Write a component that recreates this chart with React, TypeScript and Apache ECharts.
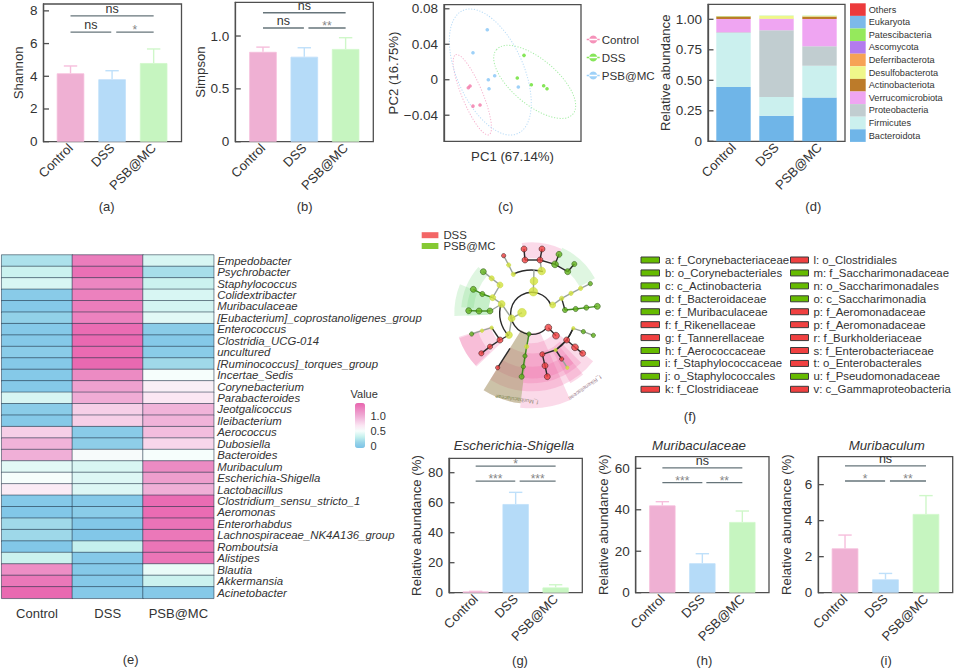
import React, { useEffect, useRef } from "react";
import * as echarts from "echarts";

const FONT = "Liberation Sans";
const TEXT = "#333";
const AXIS = "#4f4f4f";

const groups = ["Control", "DSS", "PSB@MC"];
const groupColors = ["#EFB0D3", "#B5DBF8", "#C6F5C0"];
const capLight = ["#F6BEDC", "#BFE0FA", "#CFF7C9"];

// (a)
const shannonMeans = [4.18, 3.82, 4.81];
const shannonUpper = [4.63, 4.34, 5.67];
const shannonTicks = [0, 2, 4, 6, 8];
const shannonLabels = ["0", "2", "4", "6", "8"];
const shannonBrackets: [number, number, number, string][] = [[0, 2, 7.69, "ns"], [0, 0.98, 6.7, "ns"], [1.1, 2, 6.7, "*"]];
// (b)
const simpsonMeans = [0.85, 0.804, 0.877];
const simpsonUpper = [0.895, 0.889, 0.984];
const simpsonTicks = [0, 0.5, 1];
const simpsonLabels = ["0", "0.5", "1.0"];
const simpsonBrackets: [number, number, number, string][] = [[0, 2, 1.22, "ns"], [0, 0.99, 1.076, "ns"], [1.1, 2, 1.076, "**"]];
// (c)
const pcaControl = [[-0.0645, -0.009], [-0.062, -0.0071], [-0.0577, -0.0297], [-0.0474, -0.0285]];
const pcaDss = [[0.007, 0.0019], [0.0168, 0.0275], [0.0275, -0.0056], [0.0455, -0.0068], [0.0504, -0.0101]];
const pcaPsb = [[-0.0368, 0.0564], [-0.0577, 0.0304], [-0.0353, 0], [-0.0343, -0.0101], [-0.026, 0.0045], [0.0085, -0.0082]];
const pcaColors = ["#F277A8", "#68E030", "#86C5F6"];
const pcaRing = ["#F6B4CF", "#A6EDA6", "#B9DCF7"];
// centre x, centre y, semi-axes (px), tilt (deg)
const pcaEllipses = [[-0.0587, -0.0169, 43.3, 10.3, 67.4], [0.0324, -0.0024, 50, 22.7, 40], [-0.0324, 0.0087, 67.3, 33.3, 66]];
const pcaTicks = [-0.04, 0, 0.04, 0.08];
const pcaLabels = ["\u22120.04", "0", "0.04", "0.08"];
// (d)
const phyla = ["Bacteroidota", "Firmicutes", "Proteobacteria", "Verrucomicrobiota", "Actinobacteriota", "Desulfobacterota", "Deferribacterota", "Ascomycota", "Patescibacteria", "Eukaryota", "Others"];
const phylaColors = ["#6FB5E8", "#CBF0EE", "#C1CDD0", "#EFA5F2", "#BC7B2A", "#EFF78A", "#F6A256", "#B37BEE", "#95E95C", "#7CB9EA", "#EC3A3C"];
const bacteroidota = [0.445, 0.21, 0.36];
const firmicutes = [0.443, 0.153, 0.26];
const proteobacteria = [0.005, 0.547, 0.159];
const verrucomicrobiota = [0.11, 0.093, 0.224];
const actinobacteriota = [0.02, 0.001, 0.02];
const desulfobacterota = [0.002, 0.023, 0.004];
const deferribacterota = [0.001, 0.001, 0.001];
const ascomycota = [0, 0, 0];
const patescibacteria = [0.001, 0.001, 0.001];
const eukaryota = [0, 0, 0];
const others = [0, 0, 0];
const phylaValues = [bacteroidota, firmicutes, proteobacteria, verrucomicrobiota, actinobacteriota, desulfobacterota, deferribacterota, ascomycota, patescibacteria, eukaryota, others];
const abundanceTicks = [0, 0.25, 0.5, 0.75, 1];
const abundanceLabels = ["0", "0.25", "0.50", "0.75", "1.00"];
// (e)
const genera = ["Empedobacter", "Psychrobacter", "Staphylococcus", "Colidextribacter", "Muribaculaceae", "[Eubacterium]_coprostanoligenes_group", "Enterococcus", "Clostridia_UCG-014", "uncultured", "[Ruminococcus]_torques_group", "Incertae_Sedis", "Corynebacterium", "Parabacteroides", "Jeotgalicoccus", "Ileibacterium", "Aerococcus", "Dubosiella", "Bacteroides", "Muribaculum", "Escherichia-Shigella", "Lactobacillus", "Clostridium_sensu_stricto_1", "Aeromonas", "Enterorhabdus", "Lachnospiraceae_NK4A136_group", "Romboutsia", "Alistipes", "Blautia", "Akkermansia", "Acinetobacter"];
const heatControl = [0.2, 0.33, 0.38, 0.02, 0, 0.08, 0, 0, 0.03, 0, 0, 0, 0.38, 0.03, 0, 0.82, 0.98, 1, 0.42, 0.5, 0.65, 0, -0.02, 0.15, 0.14, -0.02, 0.33, 1.2, 1.33, 1.42];
const heatDss = [1.3, 1.38, 1.25, 1.28, 1.3, 1.27, 1.4, 1.42, 1.41, 1.42, 1.22, 1.08, 1.02, 0.82, 0.82, 0.02, 0.05, 0.52, 0.38, 0.4, 0.4, 0, 0.03, -0.02, -0.02, 0.3, 0, 0, 0, 0];
const heatPsb = [0.38, 0.18, 0.33, 0.38, 0.36, 0.42, 0.03, 0, 0.03, 0.15, 0.5, 0.62, 0.68, 0.98, 0.98, 0.92, 0.78, 0.5, 1.22, 1.1, 1, 1.4, 1.4, 1.36, 1.33, 1.35, 1.35, 0.45, 0.33, 0];
const heatScale = ["#7AC2E8", "#99D5E8", "#C6F1EE", "#F6FEFC", "#FBE6F3", "#F4C4E2", "#EEA3D0", "#EC84C0", "#E964AE"];
// (f) all read in a 660 x 630 frame around the cladogram
const cladoCenter = [365, 265];
const cladoPink = "rgba(240,100,165,0.24)";
const cladoGreen = "rgba(110,215,120,0.22)";
const cladoOlive = "rgba(115,150,45,0.34)";
const cladoSectors = [
  [-8, 25, 165, 213], [25, 61, 165, 217], [275, 311, 175, 212], [268, 292, 130, 232], [268, 292, 130, 195],
  [226, 252, 130, 230], [227, 251, 170, 230], [187, 212, 60, 272], [187, 212, 120, 235], [187, 212, 165, 200], [187, 212, 60, 272],
  [156, 187, 60, 285], [128, 187, 90, 234], [135, 187, 120, 210], [140, 187, 160, 195], [140, 151, 130, 240],
];
const cladoSectorFills = [cladoPink, cladoGreen, cladoGreen, cladoGreen, cladoGreen, cladoPink, cladoPink, cladoPink, cladoPink, cladoPink, cladoOlive, cladoPink, cladoPink, cladoPink, cladoPink, cladoPink];
const cladoArcs = [[138, 427, 63], [-25, 15, 130], [226, 287, 96], [110, 147, 132]];
const cladoEdges = [
  [370, 200, 372, 133, 0], [310, 148, 296, 120, 0], [296, 120, 281, 92, 0], [336, 263, 305, 280, 0], [305, 280, 275, 237, 0], [305, 280, 297, 330, 0],
  [248, 218, 275, 237, 0], [217, 207, 248, 218, 2], [190, 193, 217, 207, 2], [270, 180, 248, 218, 0], [245, 160, 270, 180, 0], [220, 140, 245, 160, 0],
  [240, 258, 275, 237, 0], [207, 258, 240, 258, 2], [176, 257, 207, 258, 2], [428, 240, 455, 220, 0], [455, 220, 483, 205, 0], [483, 205, 512, 190, 0], [512, 190, 541, 176, 0],
  [455, 220, 465, 255, 1], [465, 255, 497, 252, 2], [497, 252, 529, 248, 2], [529, 248, 562, 244, 2], [345, 105, 390, 105, 1], [345, 105, 342, 72, 1], [390, 105, 396, 72, 1],
  [395, 138, 390, 105, 0], [390, 105, 435, 118, 1], [435, 118, 447, 88, 1], [435, 118, 473, 140, 1], [473, 140, 493, 117, 1], [297, 330, 270, 345, 1], [270, 345, 240, 365, 1],
  [240, 365, 214, 385, 1], [270, 345, 245, 308, 1], [245, 308, 216, 317, 0], [216, 317, 185, 327, 0], [357, 327, 350, 365, 2], [350, 365, 345, 393, 2], [345, 393, 340, 425, 2],
  [340, 425, 335, 455, 2], [300, 370, 263, 428, 1], [415, 308, 438, 332, 1], [490, 310, 470, 345, 1], [470, 345, 495, 367, 1], [495, 367, 518, 385, 1], [470, 345, 437, 375, 1],
  [437, 375, 397, 388, 1], [397, 388, 405, 422, 1], [405, 422, 412, 455, 1], [437, 375, 455, 402, 1], [455, 402, 472, 428, 0], [490, 310, 520, 320, 0], [520, 320, 550, 331, 0],
];
const cladoEdgeColors = ["#9aa39a", "#2a2a2a", "#3f8a1e"];
const cladoYellowNodes = [[370, 200, 10], [372, 168, 9], [395, 138, 9], [310, 148, 5], [296, 120, 5], [336, 263, 10], [305, 280, 8], [275, 237, 8], [248, 218, 7], [270, 180, 7], [245, 160, 6], [297, 330, 8], [245, 308, 4], [216, 317, 4], [428, 240, 7], [455, 220, 5], [483, 205, 5], [512, 190, 5], [437, 375, 4], [472, 428, 4], [490, 310, 4], [350, 365, 5]];
const cladoRedNodes = [[281, 92, 5], [345, 105, 7], [342, 72, 7], [390, 105, 7], [396, 72, 7], [270, 345, 7], [240, 365, 6], [214, 385, 6], [263, 428, 5], [415, 308, 8], [438, 332, 8], [470, 345, 7], [495, 367, 8], [518, 385, 7], [397, 388, 6], [405, 422, 7], [412, 455, 7], [455, 402, 5]];
const cladoGreenNodes = [[435, 118, 8], [447, 88, 7], [473, 140, 7], [493, 117, 6], [541, 176, 5], [465, 255, 6], [497, 252, 6], [529, 248, 6], [562, 244, 7], [220, 140, 7], [190, 193, 7], [217, 207, 6], [240, 258, 7], [207, 258, 7], [176, 257, 7], [185, 327, 5], [357, 327, 5], [345, 393, 5], [340, 425, 5], [335, 455, 6], [520, 320, 5], [550, 331, 5]];
const cladoLeftLabels = ["a: f_Corynebacteriaceae", "b: o_Corynebacteriales", "c: c_Actinobacteria", "d: f_Bacteroidaceae", "e: f_Muribaculaceae", "f: f_Rikenellaceae", "g: f_Tannerellaceae", "h: f_Aerococcaceae", "i: f_Staphylococcaceae", "j: o_Staphylococcales", "k: f_Clostridiaceae"];
const cladoLeftKinds = ["g", "g", "g", "g", "g", "r", "r", "g", "g", "g", "r"];
const cladoRightLabels = ["l: o_Clostridiales", "m: f_Saccharimonadaceae", "n: o_Saccharimonadales", "o: c_Saccharimonadia", "p: f_Aeromonadaceae", "p: f_Aeromonadaceae", "r: f_Burkholderiaceae", "s: f_Enterobacteriaceae", "t: o_Enterobacterales", "u: f_Pseudomonadaceae", "v: c_Gammaproteobacteria"];
const cladoRightKinds = ["r", "g", "g", "g", "r", "r", "r", "r", "r", "g", "r"];
const RED = "#F04040";
const GREEN = "#66BB00";
// (g)
const escherichiaMeans = [0.8, 59.1, 3.5];
const escherichiaUpper = [0.9, 66.9, 5.3];
const escherichiaTicks = [0, 20, 40, 60, 80];
const escherichiaLabels = ["0", "20", "40", "60", "80"];
const escherichiaBrackets: [number, number, number, string][] = [[0, 2, 84.4, "*"], [0, 0.99, 74.4, "***"], [1.1, 2, 74.4, "***"]];
// (h)
const muribaculaceaeMeans = [42.1, 14.2, 34.1];
const muribaculaceaeUpper = [43.9, 18.8, 39.4];
const muribaculaceaeTicks = [0, 20, 40, 60];
const muribaculaceaeLabels = ["0", "20", "40", "60"];
const muribaculaceaeBrackets: [number, number, number, string][] = [[0, 2, 60.2, "ns"], [0, 1, 53.1, "***"], [1.1, 2, 53.1, "**"]];
// (i)
const muribaculumMeans = [2.46, 0.74, 4.37];
const muribaculumUpper = [3.2, 1.07, 5.39];
const muribaculumTicks = [0, 2, 4, 6];
const muribaculumLabels = ["0", "2", "4", "6"];
const muribaculumBrackets: [number, number, number, string][] = [[0, 2, 7.04, "ns"], [0, 0.99, 6.2, "*"], [1.11, 2, 6.2, "**"]];

const captions = [
  ["(a)", 106.7, 206.5], ["(b)", 304.7, 206.5], ["(c)", 505.7, 206.5], ["(d)", 813.3, 206.5], ["(e)", 130.7, 659],
  ["(f)", 690, 416.7], ["(g)", 520, 660], ["(h)", 704.3, 660], ["(i)", 886, 660],
];

type Box = { left: number; top: number; width: number; height: number };

function App() {
  const ref = useRef<HTMLDivElement>(null);
  useEffect(() => {
    document.body.style.margin = "0";
    const chart = echarts.init(ref.current!, null, { renderer: "svg" });

    const grid: any[] = [];
    const xAxis: any[] = [];
    const yAxis: any[] = [];
    const series: any[] = [];
    const graphic: any[] = [];

    const addAxes = (box: Box, xMin: number, xMax: number, yMin: number, yMax: number, ticks: number[], labels: string[], yName: string, nameGap: number, showCats = true) => {
      const i = grid.length;
      grid.push({ ...box, show: true, borderColor: AXIS, borderWidth: 1.3, backgroundColor: "transparent" });
      xAxis.push({
        type: "value", gridIndex: i, min: xMin, max: xMax, splitLine: { show: false }, axisLine: { show: false, onZero: false }, axisTick: { show: false },
        axisLabel: showCats
          ? { customValues: [0, 1, 2], formatter: (v: number) => groups[Math.round(v)], rotate: 45, margin: 4, fontSize: 13, color: TEXT, fontFamily: FONT }
          : { show: false },
      });
      yAxis.push({
        type: "value", gridIndex: i, min: yMin, max: yMax, splitLine: { show: false },
        axisLine: { show: true, onZero: false, lineStyle: { color: AXIS, width: 1.3 } },
        axisTick: { show: false },
        axisLabel: { customValues: ticks, formatter: (v: number) => labels[ticks.findIndex((t) => Math.abs(t - v) < 1e-6)], margin: 6, fontSize: 13.5, color: TEXT, fontFamily: FONT },
        name: yName, nameLocation: "middle", nameGap, nameRotate: 90,
        nameTextStyle: { fontSize: 13.2, color: TEXT, fontFamily: FONT },
      });
      // inward tick marks, placed by the axis scale
      series.push({
        type: "custom", name: "ticks", coordinateSystem: "cartesian2d", xAxisIndex: i, yAxisIndex: i, silent: true, z: 5,
        data: ticks.map((t) => [xMin, t]), encode: { x: 0, y: 1 },
        renderItem: (_: any, api: any) => {
          const a = api.coord([api.value(0), api.value(1)]);
          return { type: "line", shape: { x1: a[0], y1: a[1], x2: a[0] + 5.5, y2: a[1] }, style: { stroke: AXIS, lineWidth: 1.3 } };
        },
      });
      return i;
    };

    const addBracketsAndErrors = (i: number, means: number[], upper: number[], brackets: [number, number, number, string][]) => {
      series.push({
        type: "custom", name: "error", coordinateSystem: "cartesian2d", xAxisIndex: i, yAxisIndex: i, silent: true,
        data: means.map((m, k) => [k, m, upper[k]]), encode: { x: 0, y: [1, 2] },
        renderItem: (p: any, api: any) => {
          const x = api.value(0);
          const a = api.coord([x, api.value(1)]);
          const b = api.coord([x, api.value(2)]);
          const style = { stroke: capLight[p.dataIndex], lineWidth: 1.4, fill: "none" };
          return {
            type: "group",
            children: [
              { type: "line", shape: { x1: a[0], y1: a[1], x2: b[0], y2: b[1] }, style },
              { type: "line", shape: { x1: b[0] - 6.7, y1: b[1], x2: b[0] + 6.7, y2: b[1] }, style },
            ],
          };
        },
      });
      series.push({
        type: "custom", name: "significance", coordinateSystem: "cartesian2d", xAxisIndex: i, yAxisIndex: i, silent: true,
        data: brackets.map((b) => [b[0], b[2], b[1]]), encode: { x: 0, y: 1 },
        renderItem: (p: any, api: any) => {
          const a = api.coord([api.value(0), api.value(1)]);
          const b = api.coord([api.value(2), api.value(1)]);
          const label = brackets[p.dataIndex][3];
          const isNs = label === "ns";
          return {
            type: "group",
            children: [
              { type: "line", shape: { x1: a[0], y1: a[1], x2: b[0], y2: b[1] }, style: { stroke: "#66747A", lineWidth: 1.3 } },
              {
                type: "text",
                style: {
                  text: label, x: (a[0] + b[0]) / 2, y: isNs ? a[1] - 0.5 : a[1] - 2, align: "center", verticalAlign: isNs ? "bottom" : "middle",
                  fontSize: isNs ? 12.5 : 12, fontFamily: FONT, fill: isNs ? TEXT : "#858585",
                },
              },
            ],
          };
        },
      });
    };

    const addBarPanel = (box: Box, xMin: number, xMax: number, yMax: number, ticks: number[], labels: string[], yName: string, nameGap: number, means: number[], upper: number[], brackets: [number, number, number, string][], barWidth: number) => {
      const i = addAxes(box, xMin, xMax, 0, yMax, ticks, labels, yName, nameGap);
      series.push({
        type: "bar", name: yName + " mean", xAxisIndex: i, yAxisIndex: i, barWidth, silent: true,
        data: means.map((m, k) => ({ value: [k, m], itemStyle: { color: groupColors[k], borderColor: capLight[k], borderWidth: 0.8 } })),
      });
      addBracketsAndErrors(i, means, upper, brackets);
    };

    // (a)
    addBarPanel({ left: 43.5, top: 4, width: 138, height: 137.7 }, -0.65, 2.67, 8.42, shannonTicks, shannonLabels, "Shannon", 19, shannonMeans, shannonUpper, shannonBrackets, 27.5);
    // (b)
    addBarPanel({ left: 235.3, top: 2.3, width: 138, height: 139.4 }, -0.67, 2.67, 1.319, simpsonTicks, simpsonLabels, "Simpson", 24, simpsonMeans, simpsonUpper, simpsonBrackets, 27.5);

    // (c)
    const c = addAxes({ left: 444, top: 4.7, width: 137, height: 136.6 }, -0.1, 0.1, -0.0694, 0.0846, pcaTicks, pcaLabels, "PC2 (16.75%)", 40, false);
    xAxis[c].name = "PC1 (67.14%)";
    xAxis[c].nameLocation = "middle";
    xAxis[c].nameGap = 9;
    xAxis[c].nameTextStyle = { fontSize: 13.2, color: TEXT, fontFamily: FONT, verticalAlign: "top" };
    series.push({
      type: "custom", name: "pca ellipses", coordinateSystem: "cartesian2d", xAxisIndex: c, yAxisIndex: c, silent: true,
      data: pcaEllipses, encode: { x: 0, y: 1 },
      renderItem: (p: any, api: any) => {
        const o = api.coord([api.value(0), api.value(1)]);
        return {
          type: "ellipse", x: o[0], y: o[1], rotation: (-api.value(4) * Math.PI) / 180,
          shape: { cx: 0, cy: 0, rx: api.value(2), ry: api.value(3) },
          style: { fill: "none", stroke: pcaRing[p.dataIndex], lineWidth: 1, lineDash: [1.2, 1.6] },
        };
      },
    });
    [pcaControl, pcaDss, pcaPsb].forEach((d, k) => {
      series.push({ type: "scatter", name: groups[k], xAxisIndex: c, yAxisIndex: c, data: d, symbolSize: 3.6, itemStyle: { color: pcaColors[k] }, silent: true });
    });

    // (d): an outer frame with the value axis, and an inner band holding the stacked categories
    const dBox = { left: 708, top: 4.3, width: 137, height: 137 };
    addAxes(dBox, 0, 1, 0, 1.123, abundanceTicks, abundanceLabels, "Relative abundance", 32, false);
    const dInner = grid.length;
    grid.push({ left: 712, top: dBox.top, width: 129, height: dBox.height });
    xAxis.push({ type: "category", gridIndex: dInner, data: groups, axisLine: { show: false, onZero: false }, axisTick: { show: false }, splitLine: { show: false }, axisLabel: { interval: 0, rotate: 45, margin: 4, fontSize: 13, color: TEXT, fontFamily: FONT } });
    yAxis.push({ type: "value", gridIndex: dInner, min: 0, max: 1.123, show: false });
    phyla.forEach((name, k) => {
      series.push({
        type: "bar", name, stack: "phyla", xAxisIndex: dInner, yAxisIndex: dInner, barWidth: 34.4, silent: true,
        itemStyle: { color: phylaColors[k] },
        data: phylaValues[k],
      });
    });

    // (e)
    const e = grid.length;
    grid.push({ left: 1.7, top: 255, width: 212, height: 343.3 });
    xAxis.push({ type: "category", gridIndex: e, data: groups, position: "bottom", axisLine: { show: false }, axisTick: { show: false }, splitLine: { show: false }, axisLabel: { interval: 0, margin: 9, fontSize: 13, color: TEXT, fontFamily: FONT } });
    yAxis.push({ type: "category", gridIndex: e, data: genera, inverse: true, position: "right", axisLine: { show: false }, axisTick: { show: false }, splitLine: { show: false }, axisLabel: { interval: 0, margin: 3.5, fontSize: 11.4, fontStyle: "italic", color: TEXT, fontFamily: FONT } });
    const heatIndex = series.length;
    const heatRows = [heatControl, heatDss, heatPsb];
    series.push({
      type: "heatmap", name: "Value", xAxisIndex: e, yAxisIndex: e, silent: true,
      data: heatRows.flatMap((col, x) => col.map((v, y) => [x, y, v])),
      itemStyle: { borderColor: "rgba(30,50,70,0.62)", borderWidth: 0.9 },
    });
    graphic.push({ type: "text", style: { text: "Value", x: 350.5, y: 393.5, verticalAlign: "middle", fontSize: 11, fontFamily: FONT, fill: TEXT } });
    [["1.0", 416], ["0.5", 430.5], ["0", 446]].forEach(([t, y]) => {
      graphic.push({ type: "text", style: { text: t, x: 370.5, y, verticalAlign: "middle", fontSize: 11, fontFamily: FONT, fill: TEXT } });
    });

    // (f)
    const f = grid.length;
    grid.push({ left: 410, top: 225, width: 220, height: 210 });
    xAxis.push({ type: "value", gridIndex: f, min: 0, max: 660, show: false });
    yAxis.push({ type: "value", gridIndex: f, min: 0, max: 630, inverse: true, show: false });
    series.push({
      type: "custom", name: "clades", coordinateSystem: "cartesian2d", xAxisIndex: f, yAxisIndex: f, silent: true,
      data: cladoSectors, encode: { x: 2, y: 3 },
      renderItem: (p: any, api: any) => {
        const o = api.coord(cladoCenter);
        const s = api.size([1, 1]);
        return {
          type: "sector",
          shape: { cx: o[0], cy: o[1], r0: api.value(2) * s[0], r: api.value(3) * s[0], startAngle: ((api.value(0) - 90) * Math.PI) / 180, endAngle: ((api.value(1) - 90) * Math.PI) / 180, clockwise: true },
          style: { fill: cladoSectorFills[p.dataIndex] },
        };
      },
    });
    series.push({
      type: "custom", name: "clade arcs", coordinateSystem: "cartesian2d", xAxisIndex: f, yAxisIndex: f, silent: true,
      data: cladoArcs, encode: { x: 0, y: 2 },
      renderItem: (_: any, api: any) => {
        const o = api.coord(cladoCenter);
        const s = api.size([1, 1]);
        return {
          type: "arc",
          shape: { cx: o[0], cy: o[1], r: api.value(2) * s[0], startAngle: ((api.value(0) - 90) * Math.PI) / 180, endAngle: ((api.value(1) - 90) * Math.PI) / 180, clockwise: true },
          style: { fill: "none", stroke: "#2a2a2a", lineWidth: 1.4 },
        };
      },
    });
    series.push({
      type: "custom", name: "clade edges", coordinateSystem: "cartesian2d", xAxisIndex: f, yAxisIndex: f, silent: true,
      data: cladoEdges, encode: { x: 0, y: 1 },
      renderItem: (_: any, api: any) => {
        const a = api.coord([api.value(0), api.value(1)]);
        const b = api.coord([api.value(2), api.value(3)]);
        return { type: "line", shape: { x1: a[0], y1: a[1], x2: b[0], y2: b[1] }, style: { stroke: cladoEdgeColors[api.value(4)], lineWidth: 1.4 } };
      },
    });
    const cladoNodeSeries: [string, number[][], string, string][] = [
      ["taxa none", cladoYellowNodes, "#D2E23C", "#C8D840"],
      ["taxa DSS", cladoRedNodes, RED, "#3a2020"],
      ["taxa PSB@MC", cladoGreenNodes, "#62B21A", "#2e5a18"],
    ];
    cladoNodeSeries.forEach(([name, data, color, border]) => {
      series.push({
        type: "scatter", name, xAxisIndex: f, yAxisIndex: f, silent: true, data,
        symbolSize: (v: number[]) => v[2] * 0.85,
        itemStyle: { color, borderColor: border, borderWidth: 0.7 },
      });
    });
    graphic.push({ type: "text", rotation: (172 * Math.PI) / 180, x: 516.7, y: 399.5, style: { text: "f_Muribaculaceae", align: "center", verticalAlign: "middle", fontSize: 5.5, fontFamily: FONT, fill: "#6f8f5a" } });
    graphic.push({ type: "text", rotation: (215.6 * Math.PI) / 180, x: 585, y: 388, style: { text: "f_Rikenellaceae", align: "center", verticalAlign: "middle", fontSize: 5.5, fontFamily: FONT, fill: "#a07f8f" } });
    const addCladoList = (labels: string[], kinds: string[], swatchX: number, swatchW: number, textX: number) => {
      labels.forEach((t, k) => {
        const y = 260 + k * 12.93;
        graphic.push({ type: "rect", shape: { x: swatchX, y: y - 3, width: swatchW, height: 6 }, style: { fill: kinds[k] === "g" ? GREEN : RED, stroke: "#3a3a3a", lineWidth: 1 } });
        graphic.push({ type: "text", style: { text: t, x: textX, y, verticalAlign: "middle", fontSize: 11.4, fontFamily: FONT, fill: TEXT } });
      });
    };
    addCladoList(cladoLeftLabels, cladoLeftKinds, 641, 18.5, 665);
    addCladoList(cladoRightLabels, cladoRightKinds, 790.5, 18, 813.5);

    // (g), (h), (i)
    addBarPanel({ left: 449, top: 458.3, width: 133.3, height: 134.4 }, -0.667, 2.667, 89.6, escherichiaTicks, escherichiaLabels, "Relative abundance (%)", 26, escherichiaMeans, escherichiaUpper, escherichiaBrackets, 26.3);
    addBarPanel({ left: 635.7, top: 456.7, width: 133.3, height: 136 }, -0.667, 2.667, 65.6, muribaculaceaeTicks, muribaculaceaeLabels, "Relative abundance (%)", 25.7, muribaculaceaeMeans, muribaculaceaeUpper, muribaculaceaeBrackets, 26.3);
    addBarPanel({ left: 818.3, top: 456.7, width: 134.4, height: 136 }, -0.66, 2.66, 7.55, muribaculumTicks, muribaculumLabels, "Relative abundance (%)", 25, muribaculumMeans, muribaculumUpper, muribaculumBrackets, 26.6);

    captions.forEach(([t, x, y]) => {
      graphic.push({ type: "text", style: { text: t, x, y, align: "center", verticalAlign: "middle", fontSize: 13, fontFamily: FONT, fill: TEXT } });
    });

    const titleStyle = { fontSize: 13.3, fontStyle: "italic", fontWeight: "normal", color: TEXT, fontFamily: FONT };
    const lineIcon = "path://M0 4.3H13V5.7H0Z M6.5 1a4 4 0 1 0 0.01 0Z";

    chart.setOption({
      animation: false,
      backgroundColor: "#fff",
      textStyle: { fontFamily: FONT },
      title: [
        { text: "Escherichia-Shigella", left: 514, top: 439, textAlign: "center", padding: 0, textStyle: titleStyle },
        { text: "Muribaculaceae", left: 699, top: 439, textAlign: "center", padding: 0, textStyle: titleStyle },
        { text: "Muribaculum", left: 886.7, top: 439, textAlign: "center", padding: 0, textStyle: titleStyle },
      ],
      grid, xAxis, yAxis, series,
      graphic: { elements: graphic },
      visualMap: {
        type: "continuous", seriesIndex: heatIndex, dimension: 2, min: -0.07, max: 1.45, left: 355, top: 403, itemWidth: 10, itemHeight: 45,
        calculable: false, realtime: false, text: ["", ""], showLabel: false, hoverLink: false, padding: 0, inRange: { color: heatScale },
      },
      legend: [
        {
          left: 586.7, top: 33, orient: "vertical", padding: 0, selectedMode: false, itemGap: 5, itemWidth: 13, itemHeight: 10, icon: lineIcon,
          data: groups, textStyle: { fontSize: 11.6, color: TEXT, fontFamily: FONT, padding: [0, 0, 0, -3], lineHeight: 13 },
        },
        {
          left: 850, top: 3.3, orient: "vertical", padding: 0, selectedMode: false, itemGap: 0, itemWidth: 15.7, itemHeight: 12.6, icon: "rect",
          data: [...phyla].reverse(), textStyle: { fontSize: 9.2, color: TEXT, fontFamily: FONT, padding: [0, 0, 0, -2], lineHeight: 12.6 },
        },
        {
          left: 421.7, top: 229, orient: "vertical", padding: 0, selectedMode: false, itemGap: -1.6, itemWidth: 16.7, itemHeight: 6,
          data: [
            { name: "DSS", icon: "rect", itemStyle: { color: RED } },
            { name: "PSB@MC", icon: "rect", itemStyle: { color: GREEN } },
          ],
          textStyle: { fontSize: 11.4, color: TEXT, fontFamily: FONT, lineHeight: 12.4 },
        },
      ],
    });
    return () => chart.dispose();
  }, []);
  return <div ref={ref} style={{ width: 955, height: 668 }} />;
}

export default App;
